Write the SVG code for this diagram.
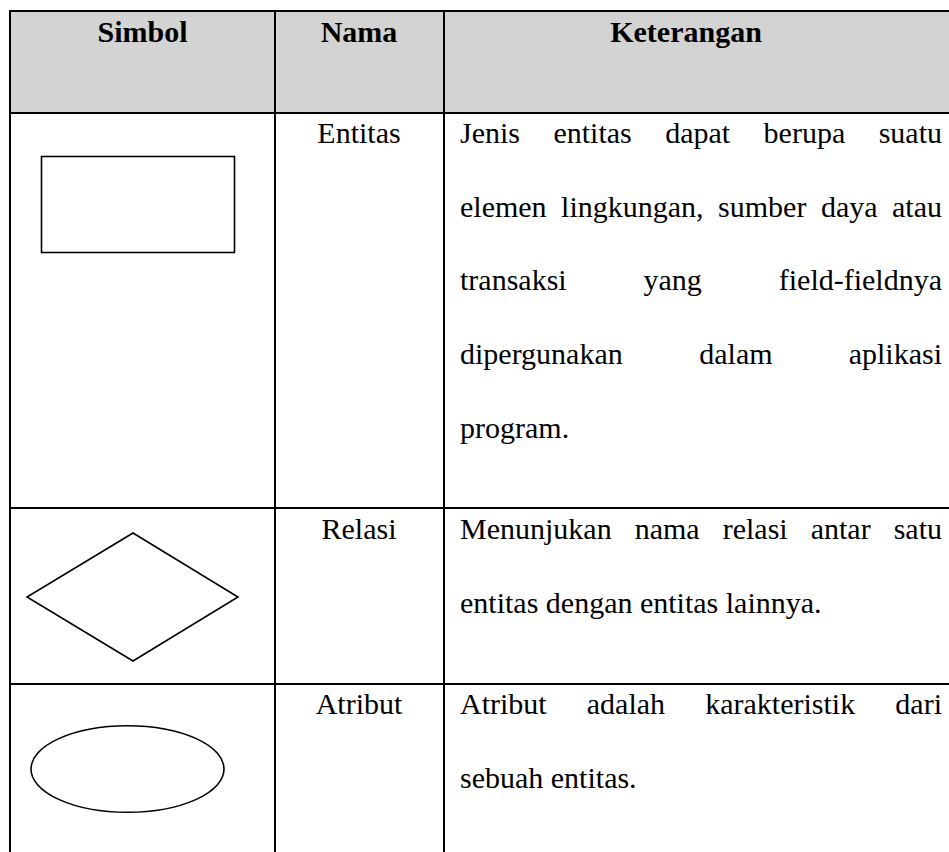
<svg xmlns="http://www.w3.org/2000/svg" width="949" height="852" viewBox="0 0 949 852">
<style>
.t{font-family:"Liberation Serif","Times New Roman",serif;font-size:30px;fill:#000}
.h{font-weight:bold;text-anchor:middle}
.c{text-anchor:middle}
.e{text-anchor:end}
.g{stroke:#000;stroke-width:2;fill:none}
.s{stroke:#000;stroke-width:1.6;fill:#fff}
</style>
<rect x="10" y="11" width="939" height="102" fill="#d3d3d3"/>
<g id="grid">
<line class="g" x1="9" y1="11" x2="949" y2="11"/>
<line class="g" x1="9" y1="113" x2="949" y2="113"/>
<line class="g" x1="9" y1="508" x2="949" y2="508"/>
<line class="g" x1="9" y1="684" x2="949" y2="684"/>
<line class="g" x1="10" y1="10" x2="10" y2="852"/>
<line class="g" x1="275" y1="10" x2="275" y2="852"/>
<line class="g" x1="444" y1="10" x2="444" y2="852"/>
</g>
<g id="header">
<text class="t h" x="142.5" y="42">Simbol</text>
<text class="t h" x="359" y="42">Nama</text>
<text class="t h" x="686" y="42">Keterangan</text>
</g>
<g id="entitas">
<rect class="s" x="41.5" y="156.5" width="193" height="96"/>
<text class="t c" x="359" y="143">Entitas</text>
<text class="t" y="143"><tspan x="460">Jenis</tspan><tspan x="553.4">entitas</tspan><tspan x="665.2">dapat</tspan><tspan x="763.6">berupa</tspan></text>
<text class="t e" x="942" y="143">suatu</text>
<text class="t" y="217"><tspan x="460">elemen</tspan><tspan x="561.1">lingkungan,</tspan><tspan x="718.1">sumber</tspan><tspan x="820.9">daya</tspan></text>
<text class="t e" x="942" y="217">atau</text>
<text class="t" y="290"><tspan x="460">transaksi</tspan><tspan x="643.5">yang</tspan></text>
<text class="t e" x="942" y="290">field-fieldnya</text>
<text class="t" y="364"><tspan x="460">dipergunakan</tspan><tspan x="699.3">dalam</tspan></text>
<text class="t e" x="942" y="364">aplikasi</text>
<text class="t" x="460" y="438">program.</text>
</g>
<g id="relasi">
<polygon class="s" points="133,533 238,597 133,661 27,597"/>
<text class="t c" x="359" y="539">Relasi</text>
<text class="t" y="539"><tspan x="460">Menunjukan</tspan><tspan x="634.7">nama</tspan><tspan x="722.7">relasi</tspan><tspan x="810.7">antar</tspan></text>
<text class="t e" x="942" y="539">satu</text>
<text class="t" x="460" y="613">entitas dengan entitas lainnya.</text>
</g>
<g id="atribut">
<ellipse class="s" cx="127.5" cy="769" rx="96.5" ry="43.3"/>
<text class="t c" x="359" y="714">Atribut</text>
<text class="t" y="714"><tspan x="460">Atribut</tspan><tspan x="586.8">adalah</tspan><tspan x="705.2">karakteristik</tspan></text>
<text class="t e" x="942" y="714">dari</text>
<text class="t" x="460" y="788">sebuah entitas.</text>
</g>
</svg>
